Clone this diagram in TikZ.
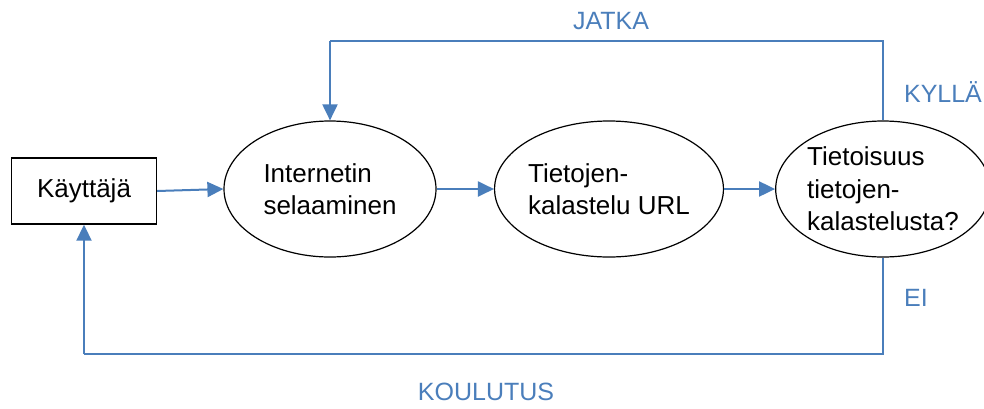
\documentclass[tikz,border=0pt]{standalone}
\usepackage{fontspec}
\setmainfont{Liberation Sans}
\usetikzlibrary{arrows.meta,shapes.geometric}
\definecolor{lineblue}{RGB}{74,126,187}
\tikzset{
  flow/.style={draw=lineblue,line width=2pt,arrows={-Triangle[length=16pt,width=15pt]}},
  plainflow/.style={draw=lineblue,line width=2pt},
  oval/.style={draw=black,line width=1.2pt,ellipse,minimum width=212pt,minimum height=136pt,
    inner sep=0pt,align=left,font=\fontsize{26}{32.5}\selectfont},
  answer/.style={text=lineblue,font=\fontsize{25}{30}\selectfont}
}
\begin{document}
\begin{tikzpicture}[x=1pt,y=-1pt]
  \useasboundingbox (0,0) rectangle (984,408);
  \node[draw=black,line width=1.4pt,minimum width=145pt,minimum height=66pt,inner sep=0pt,
    font=\fontsize{26}{32.5}\selectfont] (user) at (84,191) {Käyttäjä};
  \node[oval] (browse) at (330,189) {Internetin\\selaaminen};
  \node[oval] (phish) at (609,189) {Tietojen-\\kalastelu URL};
  \node[oval,minimum width=208pt] (aware) at (883,189) {Tietoisuus\\tietojen-\\kalastelusta?};

  \draw[flow] (user.east) -- (browse.west);
  \draw[flow] (browse.east) -- (phish.west);
  \draw[flow] (phish.east) -- (aware.west);

  \coordinate (topleft) at (330,41);
  \coordinate (botleft) at (84,354);
  \draw[plainflow] (aware.north) |- (topleft);
  \draw[flow] (topleft) -- (browse.north);
  \draw[plainflow] (aware.south) |- (botleft);
  \draw[flow] (botleft) -- (user.south);

  \node[answer] (jatka) at (611,21) {JATKA};
  \node[answer] (kylla) at (943,92) {KYLLÄ};
  \node[answer] (ei) at (916,298) {EI};
  \node[answer] (koulutus) at (486,392) {KOULUTUS};
\end{tikzpicture}
\end{document}
